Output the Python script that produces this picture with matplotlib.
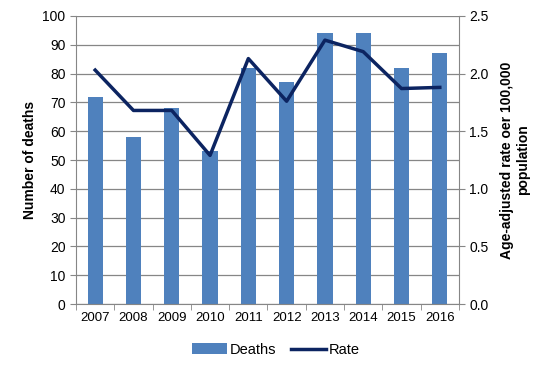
import matplotlib
matplotlib.use("Agg")
from matplotlib import pyplot as plt
import numpy as np

plt.rcParams['font.family'] = ['Liberation Sans', 'DejaVu Sans']

years = ['2007', '2008', '2009', '2010', '2011', '2012', '2013', '2014', '2015', '2016']
deaths = [72, 58, 68, 53, 82, 77, 94, 94, 82, 87]
rate = [2.03, 1.68, 1.68, 1.29, 2.13, 1.76, 2.29, 2.19, 1.87, 1.88]

grey = '#868686'
fig = plt.figure(figsize=(5.47, 3.70), dpi=100)
ax = fig.add_axes([0.139, 0.178, 0.700, 0.779])
x = np.arange(len(years))

ax.bar(x, deaths, width=0.4, color='#4f81bd', label='Deaths', zorder=2)
ax.set_ylim(0, 100)
ax.set_yticks(range(0, 101, 10))
ax.set_xlim(-0.5, len(years) - 0.5)
ax.set_xticks(x)
ax.set_xticklabels(years)
ax.set_xticks(np.arange(-0.5, len(years), 1), minor=True)
ax.tick_params(axis='x', which='major', length=0, labelsize=9.5, pad=6)
ax.tick_params(axis='x', which='minor', length=4, color=grey)
ax.tick_params(axis='y', labelsize=10, length=4, color=grey)
ax.grid(axis='y', color=grey, linewidth=0.9, zorder=0)
ax.set_axisbelow(True)
for s in ['top', 'right']:
    ax.spines[s].set_visible(False)
for s in ['left', 'bottom']:
    ax.spines[s].set_color(grey)
ax.set_ylabel('Number of deaths', fontsize=10, fontweight='bold')

ax2 = ax.twinx()
ax2.plot(x, rate, color='#0c2461', linewidth=2.5, label='Rate', zorder=3)
ax2.set_ylim(0, 2.5)
ax2.set_yticks(np.arange(0, 2.51, 0.5))
ax2.set_yticklabels(['%.1f' % v for v in np.arange(0, 2.51, 0.5)])
ax2.tick_params(axis='y', labelsize=10, length=4, color=grey)
for s in ['top', 'left', 'bottom']:
    ax2.spines[s].set_visible(False)
ax2.spines['right'].set_color(grey)
ax2.set_ylabel('Age-adjusted rate oer 100,000\npopulation', fontsize=10,
               fontweight='bold', rotation=90, labelpad=8)

h1, l1 = ax.get_legend_handles_labels()
h2, l2 = ax2.get_legend_handles_labels()
fig.legend(h1 + h2, l1 + l2, loc='center', bbox_to_anchor=(0.505, 0.055), ncol=2,
           frameon=False, fontsize=10.5, handlelength=2.4, columnspacing=1.0,
           handletextpad=0.2)

fig.savefig('out.png', dpi=100)
